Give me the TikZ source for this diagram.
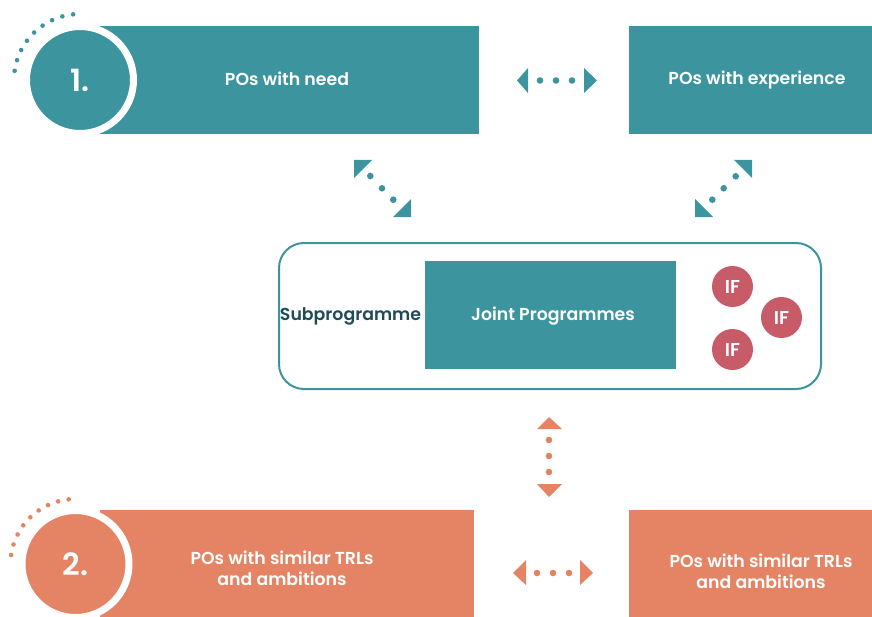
\documentclass[tikz,border=0pt]{standalone}
\usepackage{fontspec}
\setmainfont{Poppins}[BoldFont={Poppins SemiBold}]
\usetikzlibrary{fit}
\definecolor{cteal}{HTML}{3B949E}
\definecolor{corange}{HTML}{E48465}
\definecolor{cred}{HTML}{C75B67}
\definecolor{cdark}{HTML}{1F4B55}
\begin{document}
\begin{tikzpicture}[x=0.75pt,y=-0.75pt,
  box/.style={inner sep=0pt, draw=none},
  lbl/.style={text=white, font=\bfseries\fontsize{13}{15.75}\selectfont, align=center, inner sep=0pt},
  num/.style={circle, inner sep=0pt, minimum size=80.25pt, line width=5.25pt, draw=white, text=white, font=\bfseries\fontsize{23}{27}\selectfont},
  ifc/.style={circle, fill=cred, inner sep=0pt, minimum size=30.75pt, text=white, font=\bfseries\fontsize{14}{15}\selectfont},
  tdot/.style={fill=cteal},
  odot/.style={fill=corange},
]
\useasboundingbox (0,0) rectangle (872,617);

% top row
\node[box, fill=cteal, fit={(100,26)(479,134)}] (need) {};
\node[box, fill=cteal, fit={(629,26)(872,134)}] (exp) {};
\node[num, fill=cteal] (n1) at (80,80) {1.};
\node[lbl] (needt) at (287,78.5) {POs with need};
\node[lbl] (expt) at (757,79.5) {POs with experience};
\foreach \a in {0,...,8} \fill[tdot] (80,80) ++({-96-\a*9.5}:66) circle (2.3);

% top horizontal arrow
\fill[tdot] (517,80.5) -- (528,68) -- (528,93) -- cycle;
\fill[tdot] (584,68) -- (584,93) -- (597,80.5) -- cycle;
\foreach \x in {540,556,572} \fill[tdot] (\x,80.5) circle (3.3);

% diagonal left
\fill[tdot] (354,160) -- (372,160) -- (354,178) -- cycle;
\fill[tdot] (411,217) -- (393,217) -- (411,199) -- cycle;
\foreach \p in {(370.3,176),(382,188.3),(393.3,199.7)} \fill[tdot] \p circle (3.3);

% diagonal right
\fill[tdot] (752,160) -- (734,160) -- (752,178) -- cycle;
\fill[tdot] (695,217) -- (695,199) -- (713,217) -- cycle;
\foreach \p in {(735.7,176.3),(723.7,188.3),(712.3,199.7)} \fill[tdot] \p circle (3.3);

% middle
\node[box, draw=cteal, line width=1.5pt, rounded corners=18.75pt, fit={(279,243)(821,389)}] (sub) {};
\node[box, fill=cteal, fit={(425,261)(676,369)}] (joint) {};
\node[lbl] (jointt) at (553,316.5) {Joint Programmes};
\node[lbl, text=cdark] (subt) at (350.5,316.5) {Subprogramme};
\node[ifc] (if1) at (732.5,286.5) {IF};
\node[ifc] (if2) at (781.5,317.5) {IF};
\node[ifc] (if3) at (732.5,349.5) {IF};

% vertical orange arrow
\fill[odot] (549,417) -- (537,429) -- (562,429) -- cycle;
\fill[odot] (537,484) -- (562,484) -- (549,497) -- cycle;
\foreach \y in {440,456,472} \fill[odot] (549,\y) circle (3.3);

% bottom row
\node[box, fill=corange, fit={(100,510)(474,617)}] (sim1) {};
\node[box, fill=corange, fit={(629,510)(872,617)}] (sim2) {};
\node[num, fill=corange] (n2) at (75.5,564) {2.};
\node[lbl] (sim1t) at (282,568) {POs with similar TRLs\\and ambitions};
\node[lbl] (sim2t) at (761,571.5) {POs with similar TRLs\\and ambitions};
\foreach \a in {0,...,8} \fill[odot] (75.5,564) ++({-96-\a*9.5}:65) circle (2.3);

% bottom horizontal arrow
\fill[odot] (513,573) -- (526,560) -- (526,585) -- cycle;
\fill[odot] (580,560) -- (580,585) -- (593,573) -- cycle;
\foreach \x in {537,553,569} \fill[odot] (\x,573) circle (3.3);
\end{tikzpicture}
\end{document}
